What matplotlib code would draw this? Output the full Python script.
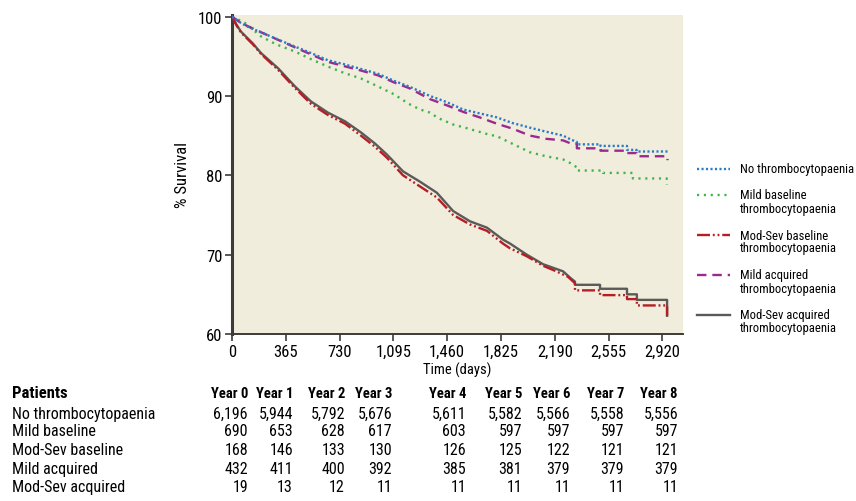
import matplotlib
matplotlib.use("Agg")
import matplotlib.pyplot as plt
import matplotlib.font_manager as fm
from matplotlib.lines import Line2D
from matplotlib.ticker import FuncFormatter

# ---------------- data ----------------
no_t_days = [0, 60, 120, 200, 300, 430, 550, 650, 760, 875, 990, 1100, 1200, 1343, 1460,
             1567, 1680, 1797, 1900, 2022, 2130, 2246, 2300, 2340, 2340, 2500, 2500, 2680, 2680,
             2745, 2745, 2955]
no_t_surv = [100, 99.2, 98.6, 98.0, 97.2, 96.2, 95.3, 94.5, 94.0, 93.4, 92.8, 91.9, 91.2, 90.0, 89.2,
             88.3, 87.8, 87.3, 86.6, 86.0, 85.5, 85.0, 84.5, 84.2, 83.9, 83.9, 83.7, 83.7, 83.2,
             83.2, 83.0, 83.0]

mild_base_days = [0, 88, 197, 300, 427, 540, 651, 760, 875, 990, 1100, 1200, 1275, 1343, 1400,
                  1500, 1600, 1730, 1800, 1933, 2022, 2130, 2246, 2300, 2340, 2340, 2517, 2517,
                  2720, 2720, 2950, 2950]
mild_base_surv = [100, 99.2, 97.5, 96.5, 95.6, 94.6, 93.7, 92.9, 92.2, 91.2, 90.2, 89.0, 88.3, 87.9, 87.2,
                  86.4, 85.9, 85.2, 84.9, 83.7, 82.9, 82.4, 82.0, 81.5, 81.0, 80.6, 80.6, 80.3,
                  80.3, 79.6, 79.6, 78.8]

modsev_base_days = [0, 30, 61, 142, 197, 312, 427, 536, 651, 767, 875, 970, 1052, 1160, 1275, 1390,
                    1500, 1615, 1730, 1838, 1886, 2000, 2110, 2200, 2280, 2327, 2327, 2497, 2497,
                    2680, 2680, 2747, 2747, 2952, 2952]
modsev_base_surv = [100, 98.9, 98.0, 96.5, 95.3, 93.3, 91.0, 89.0, 87.6, 86.5, 85.0, 83.6, 82.2, 80.0,
                    78.6, 77.2, 75.0, 73.8, 73.0, 71.4, 70.8, 69.8, 68.6, 67.9, 67.2, 66.4, 65.5, 65.5,
                    64.9, 64.9, 64.4, 64.4, 63.6, 63.6, 62.3]

mild_acq_days = [0, 60, 200, 430, 650, 875, 990, 1100, 1200, 1343, 1460, 1567, 1680, 1797, 1900,
                 2022, 2130, 2246, 2300, 2340, 2340, 2500, 2500, 2680, 2680, 2745, 2745, 2955, 2955]
mild_acq_surv = [100, 99.2, 98.0, 96.1, 94.3, 93.2, 92.6, 91.7, 91.0, 89.6, 88.8, 88.0, 87.3, 86.5, 85.9,
                 85.0, 84.6, 84.4, 84.0, 84.0, 83.4, 83.4, 83.1, 83.1, 82.8, 82.8, 82.4, 82.4, 81.9]

modsev_acq_days = [0, 30, 61, 142, 197, 312, 427, 536, 651, 767, 875, 970, 1052, 1160, 1275, 1390,
                   1500, 1615, 1730, 1838, 1886, 2000, 2110, 2246, 2300, 2327, 2327, 2497, 2497,
                   2680, 2680, 2747, 2747, 2952, 2952]
modsev_acq_surv = [100, 99.0, 98.1, 96.6, 95.4, 93.5, 91.2, 89.3, 87.9, 86.8, 85.4, 84.0, 82.6, 80.5,
                   79.2, 77.8, 75.5, 74.2, 73.4, 71.9, 71.4, 70.0, 68.8, 67.9, 67.0, 66.6, 66.2, 66.2,
                   65.7, 65.7, 65.0, 65.0, 64.3, 64.3, 62.3]

series_labels = ["No thrombocytopaenia", "Mild baseline\nthrombocytopaenia",
                 "Mod-Sev baseline\nthrombocytopaenia", "Mild acquired\nthrombocytopaenia",
                 "Mod-Sev acquired\nthrombocytopaenia"]

x_ticks = [0, 365, 730, 1095, 1460, 1825, 2190, 2555, 2920]
y_ticks = [60, 70, 80, 90, 100]

table_rows = ["No thrombocytopaenia", "Mild baseline", "Mod-Sev baseline", "Mild acquired",
              "Mod-Sev acquired"]
table_cols = ["Year 0", "Year 1", "Year 2", "Year 3", "Year 4", "Year 5", "Year 6", "Year 7", "Year 8"]
n_no_t = [6196, 5944, 5792, 5676, 5611, 5582, 5566, 5558, 5556]
n_mild_base = [690, 653, 628, 617, 603, 597, 597, 597, 597]
n_modsev_base = [168, 146, 133, 130, 126, 125, 122, 121, 121]
n_mild_acq = [432, 411, 400, 392, 385, 381, 379, 379, 379]
n_modsev_acq = [19, 13, 12, 11, 11, 11, 11, 11, 11]

# ---------------- font choice: a narrow sans if one exists ----------------
_avail = {}
for f in fm.fontManager.ttflist:
    _avail.setdefault(f.name, set()).add(str(f.stretch))
STRETCH = "normal"
if "Liberation Sans Narrow" in _avail:
    FAM = "Liberation Sans Narrow"
elif "Roboto Condensed" in _avail:
    FAM = "Roboto Condensed"
elif "Open Sans Condensed" in _avail:
    FAM = "Open Sans Condensed"
elif any(s == "condensed" for s in _avail.get("DejaVu Sans", [])):
    FAM = "DejaVu Sans"
    STRETCH = "condensed"
else:
    FAM = "Liberation Sans"
NARROW = FAM != "Liberation Sans"
plt.rcParams["font.family"] = [FAM, "DejaVu Sans"]
plt.rcParams["font.stretch"] = STRETCH
SC = 1.0 if NARROW else 0.82  # shrink text if only a regular-width family exists

W, H = 856, 502
fig = plt.figure(figsize=(W / 100, H / 100), dpi=100)


def fx(px):
    return px / W


def fy(py):
    return 1 - py / H


ax = fig.add_axes([fx(232), fy(335), (683 - 232) / W, (335 - 16) / H])
ax.set_facecolor("#f1eddc")
ax.set_xlim(0, 3060)
ax.set_ylim(60, 100.2)

LW = 1.7
styles = [
    dict(color="#2b7bc4", linestyle=(0, (0.9, 1.0)), linewidth=LW),
    dict(color="#3db54a", linestyle=(0, (0.9, 2.0)), linewidth=LW),
    dict(color="#b41e24", linestyle=(0, (5.5, 1.2, 0.8, 1.2, 0.8, 1.2)), linewidth=LW),
    dict(color="#9c2a8e", linestyle=(0, (4.0, 2.5)), linewidth=LW),
    dict(color="#5a5a5a", linestyle="-", linewidth=LW),
]
curves = [(no_t_days, no_t_surv), (mild_base_days, mild_base_surv),
          (modsev_base_days, modsev_base_surv), (mild_acq_days, mild_acq_surv),
          (modsev_acq_days, modsev_acq_surv)]
order = [4, 2, 1, 3, 0]
for i in order:
    d, s = curves[i]
    ax.plot(d, s, zorder=3 + (1 if i in (0, 3) else 0), **styles[i])

for side in ("top", "right"):
    ax.spines[side].set_visible(False)
ax.spines["left"].set_color("#3d3a38")
ax.spines["left"].set_linewidth(2.2)
ax.spines["bottom"].set_color("#3d3a38")
ax.spines["bottom"].set_linewidth(1.4)

ax.set_xticks(x_ticks)
ax.set_yticks(y_ticks)
ax.xaxis.set_major_formatter(FuncFormatter(lambda v, p: f"{int(v):,}"))
ax.tick_params(axis="both", direction="out", length=5, width=1.2, color="#3d3a38",
               labelsize=12 * SC, labelcolor="black", pad=2)

ax.set_xlabel("Time (days)", fontsize=10.5 * SC, labelpad=2)
ax.set_ylabel("% Survival", fontsize=12 * SC, labelpad=5.5)

# ---------------- legend (drawn by hand) ----------------
leg_y = [170, 196, 236, 276, 316]
for i in range(5):
    y = fy(leg_y[i])
    fig.add_artist(Line2D([fx(697), fx(730)], [y, y], transform=fig.transFigure, **styles[i]))
    for k, t in enumerate(series_labels[i].split("\n")):
        fig.text(fx(740), fy(leg_y[i] + 13 * k), t, fontsize=9.1 * SC, va="center", ha="left")

# ---------------- at-risk table ----------------
col_right = [248, 293, 345, 392, 466, 522, 570, 624, 678]
row_y = [414, 432, 451, 470, 488]
head_y = 394
fig.text(fx(12), fy(head_y), "Patients", fontsize=12 * SC, fontweight="bold", va="center", ha="left")
for c, name in enumerate(table_cols):
    fig.text(fx(col_right[c]), fy(head_y), name, fontsize=10.5 * SC, fontweight="bold",
             va="center", ha="right")
counts = [n_no_t, n_mild_base, n_modsev_base, n_mild_acq, n_modsev_acq]
for r, name in enumerate(table_rows):
    fig.text(fx(12), fy(row_y[r]), name, fontsize=11.5 * SC, va="center", ha="left")
    for c in range(len(table_cols)):
        fig.text(fx(col_right[c]), fy(row_y[r]), f"{counts[r][c]:,}", fontsize=11.5 * SC,
                 va="center", ha="right")

fig.savefig("out.png", dpi=100)
